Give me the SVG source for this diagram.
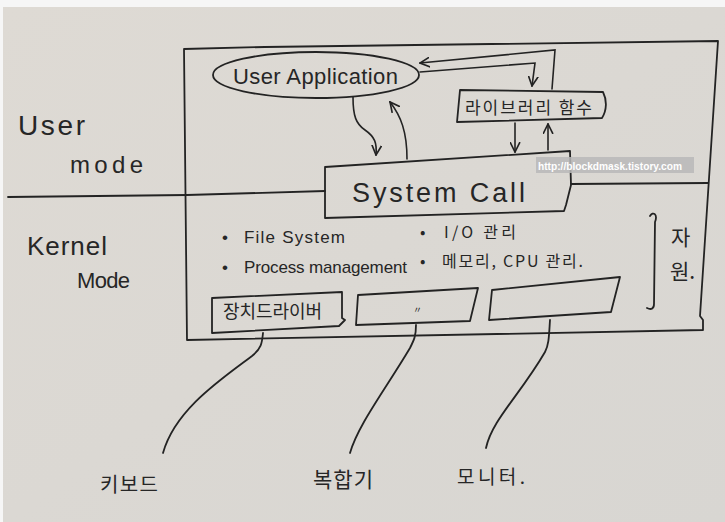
<svg xmlns="http://www.w3.org/2000/svg" width="725" height="522" viewBox="0 0 725 522">
<defs>
<linearGradient id="paper" x1="0" y1="0" x2="1" y2="1">
<stop offset="0" stop-color="#dedad4"/>
<stop offset="1" stop-color="#d8d6d2"/>
</linearGradient>
<marker id="ah" viewBox="0 0 10 10" refX="9" refY="5" markerWidth="11" markerHeight="11" markerUnits="userSpaceOnUse" orient="auto">
<path d="M0,0.5 L9,5 L0,9.5" fill="none" stroke="#222" stroke-width="1.5"/>
</marker>
<style>
.ln{fill:none;stroke:#232323;stroke-width:1.8;stroke-linejoin:round;stroke-linecap:round}
.ar{fill:none;stroke:#232323;stroke-width:1.6;stroke-linecap:round;marker-end:url(#ah)}
.t{font-family:"Liberation Sans","Noto Sans CJK KR",sans-serif;fill:#262626}
.k{font-family:"Noto Sans CJK KR","Liberation Sans",sans-serif;fill:#262626}
</style>
</defs>
<rect x="0" y="0" width="725" height="522" fill="#f6f6f6"/>
<rect x="3" y="7" width="722" height="515" fill="url(#paper)"/>

<g id="frame">
<path class="ln" d="M184,49 L265,47 L718,41 L700,316 L703,320 L703,330 L187,340 Z"/>
<path class="ln" d="M8,197 L187,195 L325,191"/>
<path class="ln" d="M571,184 L708,183"/>
</g>

<g id="mode-labels">
<text class="t" x="18" y="135" font-size="28" textLength="67" lengthAdjust="spacing">User</text>
<text class="t" x="70" y="173" font-size="24" textLength="73" lengthAdjust="spacing">mode</text>
<text class="t" x="27" y="255" font-size="26" textLength="80" lengthAdjust="spacing">Kernel</text>
<text class="t" x="77" y="288" font-size="22" textLength="53" lengthAdjust="spacing">Mode</text>
</g>

<g id="user-application">
<ellipse class="ln" cx="316" cy="75" rx="103" ry="23"/>
<text class="t" x="233" y="84" font-size="22" textLength="165" lengthAdjust="spacing">User Application</text>
</g>

<g id="library-function">
<path class="ln" d="M460,90 L603,92 C607,100 607,110 602,118 L457,122 Z"/>
<text class="k" x="465" y="114" font-size="17" textLength="127" lengthAdjust="spacing">라이브러리 함수</text>
</g>

<g id="system-call">
<path class="ln" d="M325,167 L570,151 L571,185 L566,205 L564,211 L325,218 Z"/>
<text class="t" x="352" y="202" font-size="27" textLength="173" lengthAdjust="spacing">System Call</text>
</g>

<g id="kernel-functions">
<text class="t" x="222" y="243" font-size="17">•<tspan x="244" textLength="101" lengthAdjust="spacing">File System</tspan></text>
<text class="t" x="222" y="273" font-size="17">•<tspan x="244" textLength="163" lengthAdjust="spacing">Process management</tspan></text>
<text class="k" x="420" y="238" font-size="16">•<tspan x="444" textLength="72" lengthAdjust="spacing">I/O 관리</tspan></text>
<text class="k" x="420" y="267" font-size="16">•<tspan x="442" textLength="141" lengthAdjust="spacing">메모리, CPU 관리.</tspan></text>
</g>

<g id="resources">
<path class="ln" d="M650,216 C653,211 658,214 655,222 L654,304 C654,309 651,310 647,308"/>
<text class="k" x="671" y="245" font-size="21">자</text>
<text class="k" x="670" y="279" font-size="21">원.</text>
</g>

<g id="device-driver-1">
<path class="ln" d="M212,298 L342,292 L342,318 L345,320 L339,326 L212,333 Z"/>
<text class="k" x="223" y="318" font-size="18" textLength="99" lengthAdjust="spacing">장치드라이버</text>
</g>

<g id="device-driver-2">
<path class="ln" d="M358,295 L478,288 L470,321 L356,325 Z"/>
<text class="k" x="413" y="313" font-size="9" fill="#666">〃</text>
</g>

<g id="device-driver-3">
<path class="ln" d="M492,290 L620,277 L611,312 L489,320 Z"/>
</g>

<g id="connectors">
<path class="ar" d="M353,97 C353,116 356,124 365,130 C375,137 377,143 376,155"/>
<path class="ar" d="M407,159 C407,132 401,116 390,102"/>
<path class="ar" d="M420,72 L535,63 L532,86"/>
<path class="ar" d="M552,89 L555,50 L420,63"/>
<path class="ar" d="M515,123 L515,152"/>
<path class="ar" d="M548,150 L548,124"/>
<path class="ln" d="M263,333 C262,342 262,348 252,356 C220,380 175,410 163,453"/>
<path class="ln" d="M416,325 C416,336 414,340 410,348 C385,390 358,425 350,453"/>
<path class="ln" d="M550,320 C549,335 549,345 545,352 C520,395 492,420 486,448"/>
</g>

<g id="keyboard">
<text class="k" x="100" y="492" font-size="20" textLength="58" lengthAdjust="spacing">키보드</text>
</g>
<g id="printer">
<text class="k" x="313" y="487" font-size="21" textLength="60" lengthAdjust="spacing">복합기</text>
</g>
<g id="monitor">
<text class="k" x="457" y="484" font-size="19" textLength="68" lengthAdjust="spacing">모니터.</text>
</g>

<g id="watermark">
<rect x="536" y="157" width="158" height="16" fill="#b9b9b9" fill-opacity="0.85"/>
<text x="538" y="169.5" font-family="Liberation Sans, Arial, sans-serif" font-size="11.5" font-weight="bold" fill="#ffffff" textLength="144" lengthAdjust="spacingAndGlyphs">http://blockdmask.tistory.com</text>
</g>
</svg>
